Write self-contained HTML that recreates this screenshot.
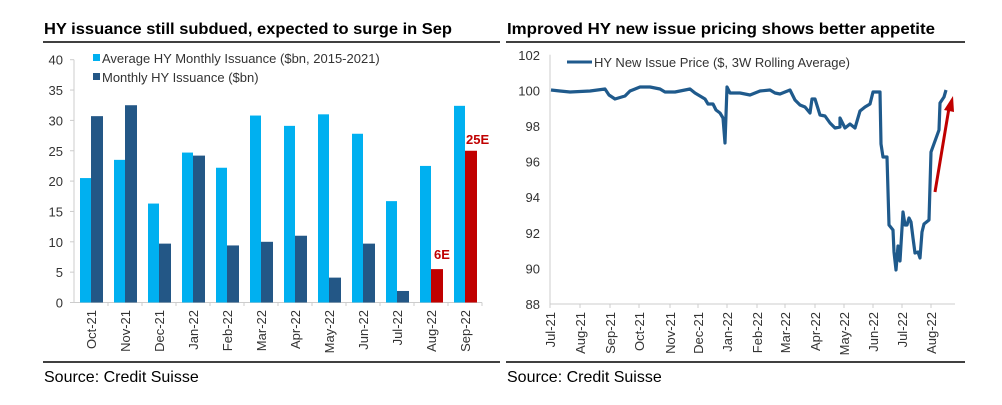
<!DOCTYPE html>
<html><head><meta charset="utf-8"><style>
body{margin:0;background:#fff;width:1002px;height:405px;overflow:hidden}
svg{display:block}
.t{font-family:"Liberation Sans",sans-serif;font-size:13px;fill:#333}
.h{font-family:"Liberation Sans",sans-serif;font-weight:bold;font-size:16px;fill:#000}
.s{font-family:"Liberation Sans",sans-serif;font-size:16px;fill:#000}
</style></head><body>
<svg width="1002" height="405" xmlns="http://www.w3.org/2000/svg">
<text class="h" x="44" y="34" textLength="408" lengthAdjust="spacingAndGlyphs">HY issuance still subdued, expected to surge in Sep</text>
<line x1="43" y1="42" x2="500" y2="42" stroke="#000" stroke-width="1.5"/>
<text class="h" x="507" y="34" textLength="428" lengthAdjust="spacingAndGlyphs">Improved HY new issue pricing shows better appetite</text>
<line x1="506" y1="42" x2="965" y2="42" stroke="#000" stroke-width="1.5"/>
<line x1="43" y1="362" x2="500" y2="362" stroke="#000" stroke-width="1.5"/>
<line x1="506" y1="362" x2="965" y2="362" stroke="#000" stroke-width="1.5"/>
<text class="s" x="44" y="382">Source: Credit Suisse</text>
<text class="s" x="507" y="382">Source: Credit Suisse</text>
<g id="left"></g>
<g id="right"></g>
<polyline fill="none" stroke="#1f5a8c" stroke-width="3.2" stroke-linejoin="round" points="551,90 560,91 570,92 590,91 605,89 609,95 615,99 625,96 630,91 640,87 650,87 660,89 665,92 675,92 690,89 695,93 700,96 705,99 708,104 713,104 716,110 720,113 723,118 725,143 727,87 730,93 740,93 750,95 760,91 770,90 775,93 780,94 790,90 795,100 800,105 805,107 810,113 812,99 815,99 820,115 825,116 830,123 835,128 840,127 840,118 845,128 850,124 855,128 860,111 865,107 870,104 873,92 880,92 881,144 883,157 887,157 889,225 893,230 894,252 896,270 898,246 900,261 903,212 905,225 907,225 909,218 911,222 913,238 915,253 918,252 920,258 922,232 924,224 929,220 931,152 935,141 939,130 940,103 944,97 946,90"/>
<line x1="935" y1="192" x2="949" y2="108" stroke="#c00000" stroke-width="3"/>
<polygon points="953,96 944,110 954,112" fill="#c00000"/>
</svg>
<script>
var NS="http://www.w3.org/2000/svg";
function el(p,n,a,t){var e=document.createElementNS(NS,n);for(var k in a)e.setAttribute(k,a[k]);if(t!=null)e.textContent=t;p.appendChild(e);return e;}
var L=document.getElementById("left");
function yl(v){return 302.5-v*6.07;}
for(var v=0;v<=40;v+=5){el(L,"text",{class:"t",x:63,y:yl(v)+5,"text-anchor":"end"},v);el(L,"line",{x1:70,x2:74,y1:yl(v),y2:yl(v),stroke:"#ccc"});}
el(L,"line",{x1:74,x2:74,y1:yl(40),y2:302.5,stroke:"#ccc"});
el(L,"line",{x1:74,x2:482,y1:302.5,y2:302.5,stroke:"#ccc"});
var m=["Oct-21","Nov-21","Dec-21","Jan-22","Feb-22","Mar-22","Apr-22","May-22","Jun-22","Jul-22","Aug-22","Sep-22"];
var a=[20.5,23.5,16.3,24.7,22.2,30.8,29.1,31,27.8,16.7,22.5,32.4];
var d=[30.7,32.5,9.7,24.2,9.4,10,11,4.1,9.7,1.9,5.5,25];
for(var i=0;i<12;i++){var x=80+34*i;
el(L,"rect",{x:x,y:yl(a[i]),width:11,height:a[i]*6.07,fill:"#00b0f0"});
el(L,"rect",{x:x+11,y:yl(d[i]),width:12,height:d[i]*6.07,fill:i>=10?"#c00000":"#235786"});
el(L,"line",{x1:74+34*(i+1),x2:74+34*(i+1),y1:302.5,y2:306,stroke:"#ccc"});
el(L,"text",{class:"t",transform:"translate("+(x+16)+",310) rotate(-90)","text-anchor":"end"},m[i]);}
el(L,"text",{x:434,y:259,"font-family":"Liberation Sans","font-weight":"bold","font-size":"13",fill:"#c00000"},"6E");
el(L,"text",{x:466,y:144,"font-family":"Liberation Sans","font-weight":"bold","font-size":"13",fill:"#c00000"},"25E");
el(L,"rect",{x:93,y:54,width:7,height:7,fill:"#00b0f0"});
el(L,"text",{class:"t",x:102,y:63},"Average HY Monthly Issuance ($bn, 2015-2021)");
el(L,"rect",{x:93,y:73,width:7,height:7,fill:"#235786"});
el(L,"text",{class:"t",x:102,y:82},"Monthly HY Issuance ($bn)");
var R=document.getElementById("right");
function yr(v){return 304-(v-88)*17.8;}
for(var v=88;v<=102;v+=2){el(R,"text",{class:"t",x:540,y:yr(v)+5,"text-anchor":"end"},v);}
el(R,"line",{x1:550,x2:550,y1:yr(102),y2:304,stroke:"#ccc"});
el(R,"line",{x1:550,x2:955,y1:304,y2:304,stroke:"#ccc"});
var mr=["Jul-21","Aug-21","Sep-21","Oct-21","Nov-21","Dec-21","Jan-22","Feb-22","Mar-22","Apr-22","May-22","Jun-22","Jul-22","Aug-22"];
var tx=[550,580,610,639,670,698,727,757,785,815,844,873,902,931];
for(var i=0;i<14;i++){el(R,"line",{x1:tx[i],x2:tx[i],y1:304,y2:308,stroke:"#ccc"});
el(R,"text",{class:"t",transform:"translate("+(tx[i]+5)+",312) rotate(-90)","text-anchor":"end"},mr[i]);}
el(R,"line",{x1:567,x2:592,y1:62,y2:62,stroke:"#1f5a8c","stroke-width":3});
el(R,"text",{class:"t",x:594,y:67},"HY New Issue Price ($, 3W Rolling Average)");
</script>
</body></html>
